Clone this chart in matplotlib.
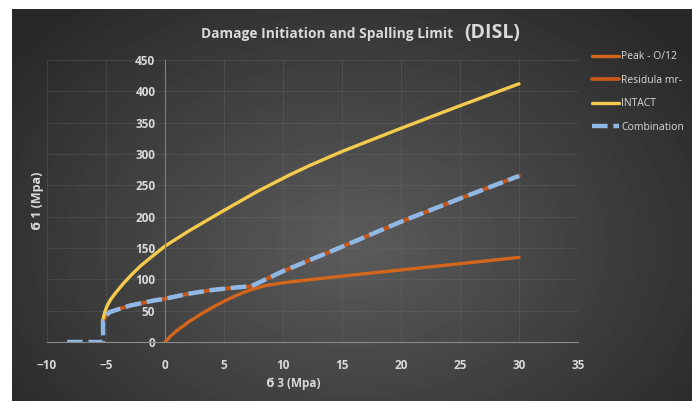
import numpy as np
import matplotlib
matplotlib.use('Agg')
import matplotlib.pyplot as plt

plt.rcParams['font.family'] = ['Open Sans', 'DejaVu Sans']

# values
x_ticks = [-10, -5, 0, 5, 10, 15, 20, 25, 30, 35]
y_ticks = [0, 50, 100, 150, 200, 250, 300, 350, 400, 450]

peak_s3 = [0, 0.5, 1, 2, 3, 4, 5, 6, 7.2, 8.5, 10, 12.3, 15.7, 22.5, 30]
peak_s1 = [0, 10, 18, 32, 44, 55, 65, 74, 83, 90, 94.5, 99.5, 106.5, 120, 135]

resid_s3 = [-5.25, -5.0, -4.66, -4, -3, -2, -1, 0, 2, 4, 6, 7.3, 10, 15, 20, 25, 30]
resid_s1 = [35, 42, 48, 52, 58, 62, 66, 69, 77, 83, 87, 89, 113, 152, 192, 229, 265]

intact_s3 = [-5.23, -5.1, -4.9, -4.6, -4.2, -3.5, -2.8, -2.1, -1, 0, 2, 5, 7.8,
             10.5, 12.3, 15, 20, 25, 30]
intact_s1 = [38, 48, 58, 68, 78, 94, 108, 121, 138, 153, 177, 210, 240,
             266, 282, 304, 341, 377, 412]

comb_s3 = [-8.3, -5.25] + resid_s3
comb_s1 = [0, 0] + resid_s1

W, H = 692, 401
fig = plt.figure(figsize=(W / 100, H / 100), dpi=100, facecolor='white')

# dark radial-gradient chart background
bg = fig.add_axes([12 / W, 0, (W - 12) / W, (H - 9) / H])
yy, xx = np.mgrid[0:H - 9, 0:W - 12]
r = np.sqrt(((xx - 340) / 430.0) ** 2 + ((yy - 235) / 310.0) ** 2)
shade = 0.36 - 0.20 * np.clip(r, 0, 1)
bg.imshow(shade, cmap='gray', vmin=0, vmax=1, aspect='auto', interpolation='bilinear')
bg.axis('off')

ax = fig.add_axes([47 / W, 1 - 342 / H, (578 - 47) / W, (342 - 60) / H])
ax.set_facecolor('none')
ax.set_xlim(-10, 35)
ax.set_ylim(0, 450)
ax.set_xticks(x_ticks)
ax.set_yticks(y_ticks)
ax.grid(True, color='#707070', lw=0.6, alpha=0.35)
ax.set_axisbelow(True)
for s in ['top', 'right']:
    ax.spines[s].set_visible(False)
ax.spines['left'].set_position(('data', 0))
ax.spines['left'].set_color('#7f7f7f')
ax.spines['bottom'].set_color('#8a8a8a')
ax.spines['left'].set_linewidth(0.8)
ax.spines['bottom'].set_linewidth(0.8)
ax.tick_params(axis='both', length=0, colors='#d9d9d9', labelsize=8.5)
ax.tick_params(axis='x', pad=12)
ax.tick_params(axis='y', pad=7)
for lab in ax.get_xticklabels() + ax.get_yticklabels():
    lab.set_fontweight('bold')

l1, = ax.plot(peak_s3, peak_s1, color='#d4661c', lw=2.4, label='Peak - O/12', solid_capstyle='round')
l2, = ax.plot(resid_s3, resid_s1, color='#c8581a', lw=2.7, label='Residula mr-', solid_capstyle='round')
l3, = ax.plot(intact_s3, intact_s1, color='#f5cb4e', lw=2.4, label='INTACT', solid_capstyle='round')
l4, = ax.plot(comb_s3, comb_s1, color='#8fb8e6', lw=3.2, ls=(0, (3.5, 1.3)), label='Combination')

fig.legend(handles=[l1, l2, l3, l4], loc='upper left', bbox_to_anchor=(588 / W, 1 - 47 / H),
           frameon=False, fontsize=7.5, labelcolor='#d9d9d9', handlelength=2.6,
           handletextpad=0.2, labelspacing=1.2, borderaxespad=0)

fig.text(201 / W, 1 - 34 / H, 'Damage Initiation and Spalling Limit', color='#d9d9d9',
         fontsize=9.9, fontweight='bold', ha='left', va='center')
fig.text(464 / W, 1 - 33 / H, '(DISL)', color='#d9d9d9',
         fontsize=14, fontweight='bold', ha='left', va='center')

fig.text(293 / W, 1 - 383 / H, 'ϭ 3 (Mpa)', color='#d9d9d9', fontsize=8.5,
         fontweight='bold', ha='center', va='center')
fig.text(37 / W, 1 - 201 / H, 'ϭ 1 (Mpa)', color='#d9d9d9', fontsize=9,
         fontweight='bold', ha='center', va='center', rotation=90)

fig.savefig('out.png', dpi=100)
